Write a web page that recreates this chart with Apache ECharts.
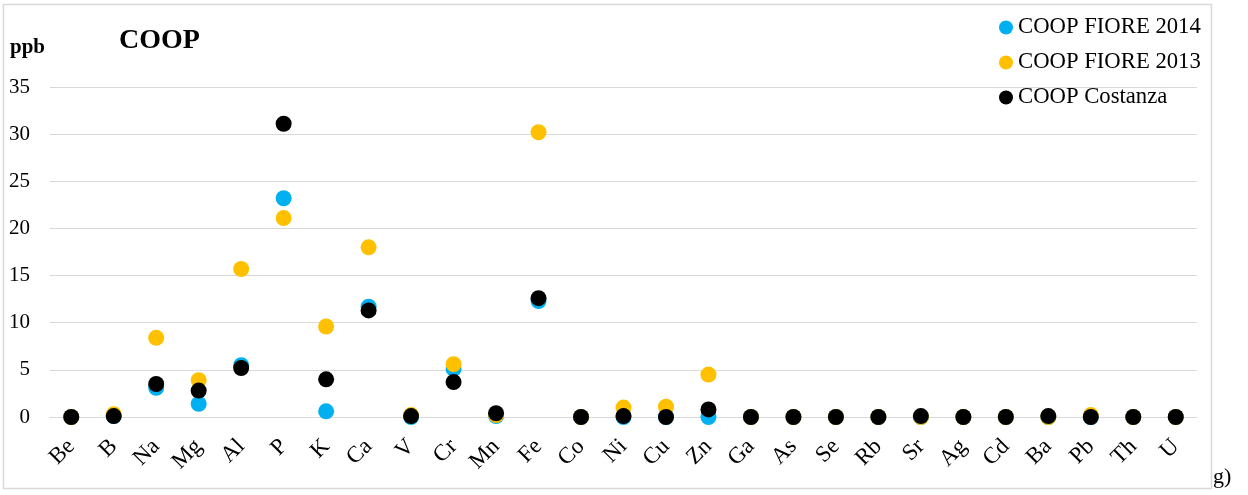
<!DOCTYPE html>
<html>
<head>
<meta charset="utf-8">
<script src="https://cdn.jsdelivr.net/npm/echarts@6/dist/echarts.min.js"></script>
<style>
html,body{margin:0;padding:0;background:#fff;}
#c{width:1248px;height:495px;}
</style>
</head>
<body>
<div id="c"></div>
<script>
const categories = ['Be','B','Na','Mg','Al','P','K','Ca','V','Cr','Mn','Fe','Co','Ni','Cu','Zn','Ga','As','Se','Rb','Sr','Ag','Cd','Ba','Pb','Th','U'];
const fiore2014 = [0, 0.1, 3.1, 1.4, 5.5, 23.2, 0.6, 11.7, 0, 5.1, 0.1, 12.3, 0, 0, 0, 0, 0, 0, 0, 0, 0, 0, 0, 0, 0, 0, 0];
const fiore2013 = [0, 0.3, 8.4, 3.9, 15.7, 21.1, 9.6, 18.0, 0.2, 5.6, 0.2, 30.2, 0, 1.0, 1.1, 4.5, 0, 0, 0, 0, 0, 0, 0, 0, 0.2, 0, 0];
const costanza = [0, 0.1, 3.5, 2.8, 5.2, 31.1, 4.0, 11.3, 0.1, 3.7, 0.4, 12.6, 0, 0.1, 0, 0.8, 0, 0, 0, 0, 0.1, 0, 0, 0.1, 0, 0, 0];
const seriesNames = ['COOP FIORE 2014', 'COOP FIORE 2013', 'COOP Costanza'];
const yTicks = {min: 0, max: 35, interval: 5};

const FONT = '"Liberation Serif", "Times New Roman", serif';
const chart = echarts.init(document.getElementById('c'), null, {renderer: 'canvas'});
chart.setOption({
  animation: false,
  backgroundColor: '#ffffff',
  grid: {left: 50, right: 51, top: 87, bottom: 78, containLabel: false},
  legend: {
    orient: 'vertical',
    left: 999, top: 16,
    padding: 0,
    itemWidth: 14, itemHeight: 14, itemGap: 12,
    icon: 'circle',
    textStyle: {fontFamily: FONT, fontSize: 22.7, color: '#000'},
    data: seriesNames
  },
  xAxis: {
    type: 'category',
    data: categories,
    boundaryGap: true,
    axisTick: {show: false},
    axisLine: {lineStyle: {color: '#d9d9d9', width: 1}},
    axisLabel: {rotate: 45, margin: 26, interval: 0, fontFamily: FONT, fontSize: 23, color: '#000'},
    splitLine: {show: false}
  },
  yAxis: {
    type: 'value',
    min: yTicks.min, max: yTicks.max, interval: yTicks.interval,
    axisLine: {show: false},
    axisTick: {show: false},
    axisLabel: {margin: 20, fontFamily: FONT, fontSize: 21, color: '#000'},
    splitLine: {lineStyle: {color: '#d9d9d9', width: 1}}
  },
  series: [
    {name: seriesNames[0], type: 'scatter', data: fiore2014, symbol: 'circle', symbolSize: 16, itemStyle: {color: '#00B0F0', opacity: 1}},
    {name: seriesNames[1], type: 'scatter', data: fiore2013, symbol: 'circle', symbolSize: 16, itemStyle: {color: '#FFC000', opacity: 1}},
    {name: seriesNames[2], type: 'scatter', data: costanza, symbol: 'circle', symbolSize: 16, itemStyle: {color: '#000000', opacity: 1}}
  ],
  graphic: [
    {type: 'rect', silent: true, z: -1, shape: {x: 3.5, y: 4.5, width: 1208, height: 484}, style: {fill: 'none', stroke: '#d9d9d9', lineWidth: 1.5}},
    {type: 'text', left: 10, top: 37, style: {text: 'ppb', font: 'bold 21px ' + FONT, fill: '#000'}},
    {type: 'text', left: 119, top: 27, style: {text: 'COOP', font: 'bold 28px ' + FONT, fill: '#000'}},
    {type: 'text', left: 1213, top: 466, style: {text: 'g)', font: '22px ' + FONT, fill: '#000'}}
  ]
});
</script>
</body>
</html>
